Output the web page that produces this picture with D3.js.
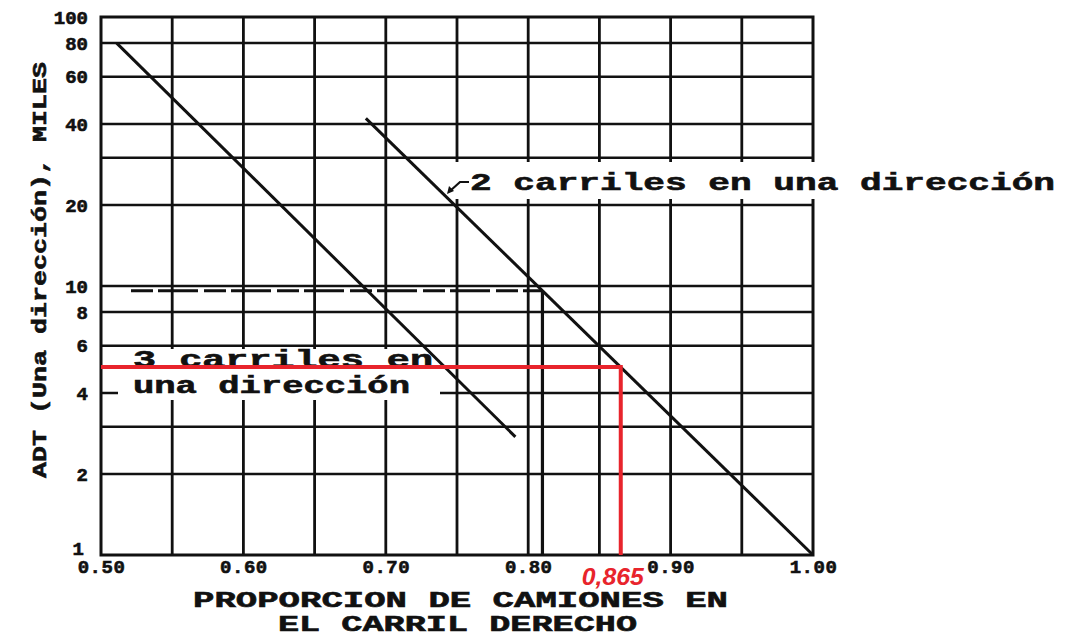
<!DOCTYPE html>
<html>
<head>
  <meta charset="utf-8">
  <title>ADT vs proporcion de camiones</title>
  <style>
    body { margin: 0; background: #fff; }
  </style>
</head>
<body>
  <div id="chart"></div>
<script src="https://cdn.jsdelivr.net/npm/d3@7"></script>
<script>
  var xTicks = [0.50, 0.60, 0.70, 0.80, 0.90, 1.00];
  var xGrid = [0.55, 0.60, 0.65, 0.70, 0.75, 0.80, 0.85, 0.90, 0.95];
  var yTicks = [1, 2, 4, 6, 8, 10, 20, 40, 60, 80, 100];
  var yGrid = [2, 3, 4, 6, 8, 10, 20, 30, 40, 60, 80];

  // curves (proporcion, ADT miles)
  var tresCarrilesP = [0.511, 0.791];
  var tresCarrilesADT = [80, 2.75];
  var dosCarrilesP = [0.686, 1.00];
  var dosCarrilesADT = [42, 1];

  // example reading printed on the original chart
  var ejemploP = [0.50, 0.81, 0.81];
  var ejemploADT = [9.6, 9.6, 1];

  // red annotation
  var lecturaP = [0.50, 0.865, 0.865];
  var lecturaADT = [5, 5, 1];
  var lecturaTexto = "0,865";

  var w = 1070;
  var h = 637;
  var ink = "#111";
  var red = "#e8242c";
  var mono = "'Liberation Mono', 'DejaVu Sans Mono', monospace";

  var svg = d3.select("#chart")
              .append("svg")
              .attr("width", w)
              .attr("height", h);

  var x = d3.scaleLinear().domain([0.5, 1.0]).range([101, 813]);
  var y = d3.scaleLog().domain([1, 100]).range([555, 17]);

  // grid
  svg.selectAll("line.vgrid")
     .data(xGrid)
     .enter()
     .append("line")
     .attr("class", "vgrid")
     .attr("x1", function (d) { return x(d); })
     .attr("x2", function (d) { return x(d); })
     .attr("y1", y(100))
     .attr("y2", y(1))
     .attr("stroke", ink)
     .attr("stroke-width", 2.8);

  svg.selectAll("line.hgrid")
     .data(yGrid)
     .enter()
     .append("line")
     .attr("class", "hgrid")
     .attr("x1", x(0.5))
     .attr("x2", x(1.0))
     .attr("y1", function (d) { return y(d); })
     .attr("y2", function (d) { return y(d); })
     .attr("stroke", ink)
     .attr("stroke-width", 2.5);

  svg.append("rect")
     .attr("x", x(0.5))
     .attr("y", y(100))
     .attr("width", x(1.0) - x(0.5))
     .attr("height", y(1) - y(100))
     .attr("fill", "none")
     .attr("stroke", ink)
     .attr("stroke-width", 3);

  // example reading on the original (dashed across, then down)
  svg.append("line")
     .attr("x1", x(ejemploP[0]) + 30)
     .attr("x2", x(ejemploP[1]))
     .attr("y1", y(ejemploADT[0]))
     .attr("y2", y(ejemploADT[1]))
     .attr("stroke", ink)
     .attr("stroke-width", 3)
     .attr("stroke-dasharray", "22,5,40,6");
  svg.append("line")
     .attr("x1", x(ejemploP[1]))
     .attr("x2", x(ejemploP[2]))
     .attr("y1", y(ejemploADT[1]))
     .attr("y2", y(ejemploADT[2]))
     .attr("stroke", ink)
     .attr("stroke-width", 3.2);

  // pasted label patches hide the grid behind them
  svg.append("rect")
     .attr("x", 118).attr("y", 349)
     .attr("width", 322).attr("height", 51)
     .attr("fill", "#fff");
  svg.append("rect")
     .attr("x", 452).attr("y", 162)
     .attr("width", 612).attr("height", 37)
     .attr("fill", "#fff");

  // the two lane lines
  var line = d3.line()
               .x(function (d) { return x(d[0]); })
               .y(function (d) { return y(d[1]); });

  svg.append("path")
     .datum(d3.zip(tresCarrilesP, tresCarrilesADT))
     .attr("d", line)
     .attr("fill", "none")
     .attr("stroke", ink)
     .attr("stroke-width", 3);

  svg.append("path")
     .datum(d3.zip(dosCarrilesP, dosCarrilesADT))
     .attr("d", line)
     .attr("fill", "none")
     .attr("stroke", ink)
     .attr("stroke-width", 3);

  // heavy typewriter look
  function heavy(sel, size) {
    sel.attr("font-family", mono)
       .attr("font-weight", "bold")
       .attr("font-size", size)
       .attr("fill", ink)
       .attr("stroke", ink)
       .attr("stroke-width", 0.6);
  }

  // axes
  var xAxis = d3.axisBottom(x)
                .tickValues(xTicks)
                .tickFormat(d3.format(".2f"))
                .tickSize(0)
                .tickPadding(5);
  var gx = svg.append("g")
              .attr("transform", "translate(0," + y(1) + ")")
              .call(xAxis);
  gx.select(".domain").remove();
  heavy(gx.selectAll("text"), "19px");
  gx.selectAll("text").attr("letter-spacing", "0.5px");

  var yAxis = d3.axisLeft(y)
                .tickValues(yTicks)
                .tickFormat(d3.format("d"))
                .tickSize(0)
                .tickPadding(13);
  var gy = svg.append("g")
              .attr("transform", "translate(" + x(0.5) + ",0)")
              .call(yAxis);
  gy.select(".domain").remove();
  heavy(gy.selectAll("text"), "19px");
  // the "1" sits a little higher, clear of 0.50
  gy.selectAll(".tick")
    .filter(function (d) { return d === 1; })
    .select("text")
    .attr("dy", "-0.05em")
    .attr("dx", "-4");

  // axis titles
  heavy(svg.append("text")
     .text("PROPORCION DE CAMIONES EN")
     .attr("x", 193).attr("y", 607)
     .attr("textLength", 535)
     .attr("lengthAdjust", "spacingAndGlyphs"), "22px");
  heavy(svg.append("text")
     .text("EL CARRIL DERECHO")
     .attr("x", 278).attr("y", 631)
     .attr("textLength", 359)
     .attr("lengthAdjust", "spacingAndGlyphs"), "22px");
  heavy(svg.append("text")
     .text("ADT (Una dirección), MILES")
     .attr("transform", "translate(46,478) rotate(-90)")
     .attr("textLength", 416)
     .attr("lengthAdjust", "spacingAndGlyphs"), "21px");

  // curve labels
  heavy(svg.append("text")
     .text("2 carriles en una dirección")
     .attr("x", 470).attr("y", 190)
     .attr("textLength", 585)
     .attr("lengthAdjust", "spacingAndGlyphs"), "23px");
  svg.append("path")
     .attr("d", "M469,182 L460,182 L450,191")
     .attr("fill", "none")
     .attr("stroke", ink)
     .attr("stroke-width", 2.2);
  svg.append("path")
     .attr("d", "M447,194 L449,186 L454,191 Z")
     .attr("fill", ink);

  heavy(svg.append("text")
     .text("3 carriles en")
     .attr("x", 133).attr("y", 367)
     .attr("textLength", 300)
     .attr("lengthAdjust", "spacingAndGlyphs"), "23px");
  heavy(svg.append("text")
     .text("una dirección")
     .attr("x", 133).attr("y", 393)
     .attr("textLength", 277)
     .attr("lengthAdjust", "spacingAndGlyphs"), "23px");

  // red reading: ADT 5 -> 0,865
  svg.append("path")
     .datum(d3.zip(lecturaP, lecturaADT))
     .attr("d", line)
     .attr("fill", "none")
     .attr("stroke", red)
     .attr("stroke-width", 4);
  svg.append("text")
     .text(lecturaTexto)
     .attr("x", x(lecturaP[1]) - 8)
     .attr("y", 585)
     .attr("text-anchor", "middle")
     .attr("textLength", 62)
     .attr("lengthAdjust", "spacingAndGlyphs")
     .attr("font-family", "'Liberation Sans', Arial, sans-serif")
     .attr("font-style", "italic")
     .attr("font-weight", "bold")
     .attr("font-size", "24px")
     .attr("fill", red);
</script>
</body>
</html>
